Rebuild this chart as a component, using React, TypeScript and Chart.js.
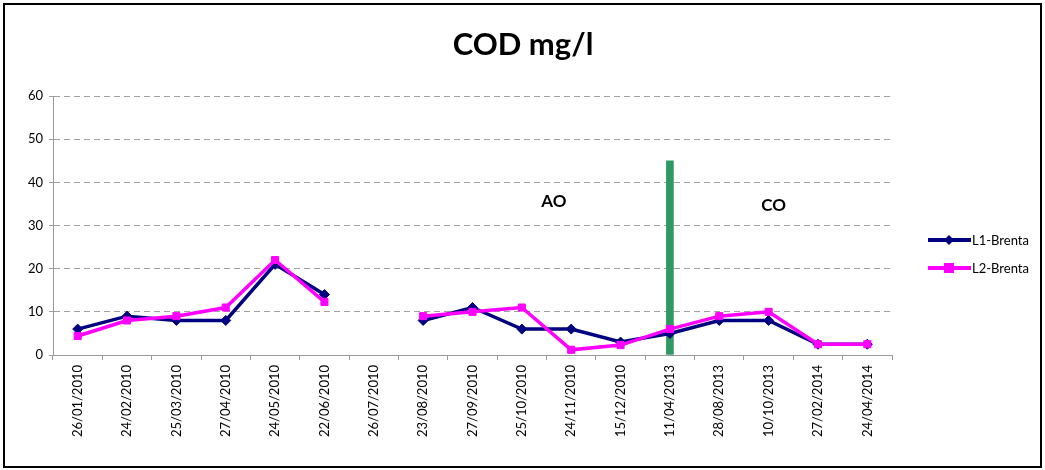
import React, { useEffect, useRef } from "react";
import { Chart, registerables } from "chart.js";

Chart.register(...registerables);

const categories = [
  "26/01/2010", "24/02/2010", "25/03/2010", "27/04/2010", "24/05/2010", "22/06/2010",
  "26/07/2010", "23/08/2010", "27/09/2010", "25/10/2010", "24/11/2010", "15/12/2010",
  "11/04/2013", "28/08/2013", "10/10/2013", "27/02/2014", "24/04/2014",
];
const l1Brenta = [6, 9, 8, 8, 21, 14, null, 8, 11, 6, 6, 3, 5, 8, 8, 2.5, 2.5];
const l2Brenta = [4.4, 8, 9, 11, 22, 12.3, null, 9, 10, 11, 1.2, 2.3, 6, 9, 10, 2.5, 2.5];
const dividerBar = [null, null, null, null, null, null, null, null, null, null, null, null, 45, null, null, null, null];
const yTicks = [0, 10, 20, 30, 40, 50, 60];
const annotations = [
  { text: "AO", index: 9.65, value: 35.5 },
  { text: "CO", index: 14.1, value: 34.6 },
];
const legendItems = [
  { label: "L1-Brenta", color: "#000080", marker: "diamond" },
  { label: "L2-Brenta", color: "#FF00FF", marker: "square" },
];

const FONT = "Lato, 'Liberation Sans', sans-serif";

const customPlugin = {
  id: "customDraw",
  afterDatasetsDraw(chart: any) {
    const ctx = chart.ctx;
    const xs = chart.scales.x;
    const ys = chart.scales.y;
    ctx.save();
    // title
    ctx.fillStyle = "#000";
    ctx.font = `bold 31px ${FONT}`;
    ctx.textAlign = "center";
    ctx.textBaseline = "middle";
    ctx.fillText("COD mg/l", 523, 45);
    // annotations
    ctx.font = `bold 17px ${FONT}`;
    const step = xs.getPixelForValue(1) - xs.getPixelForValue(0);
    annotations.forEach((a) => {
      const x = xs.getPixelForValue(0) + a.index * step;
      const y = ys.getPixelForValue(a.value);
      ctx.fillText(a.text, x, y);
    });
    // legend
    legendItems.forEach((item, i) => {
      const y = 240 + i * 28;
      ctx.strokeStyle = item.color;
      ctx.lineWidth = 4;
      ctx.beginPath();
      ctx.moveTo(928, y);
      ctx.lineTo(971, y);
      ctx.stroke();
      ctx.fillStyle = item.color;
      if (item.marker === "diamond") {
        ctx.beginPath();
        ctx.moveTo(949, y - 5);
        ctx.lineTo(954, y);
        ctx.lineTo(949, y + 5);
        ctx.lineTo(944, y);
        ctx.closePath();
        ctx.fill();
      } else {
        ctx.fillRect(944, y - 5, 10, 10);
      }
      ctx.fillStyle = "#000";
      ctx.font = `13px ${FONT}`;
      ctx.textAlign = "left";
      ctx.fillText(item.label, 972, y + 1);
    });
    ctx.restore();
  },
};

export default function App() {
  const ref = useRef<HTMLCanvasElement>(null);
  useEffect(() => {
    if (!ref.current) return;
    const chart = new Chart(ref.current, {
      type: "line",
      data: {
        labels: categories,
        datasets: [
          {
            type: "line",
            label: "L2-Brenta",
            data: l2Brenta,
            borderColor: "#FF00FF",
            backgroundColor: "#FF00FF",
            borderWidth: 3.5,
            pointStyle: "rect",
            pointRadius: 5,
            pointBorderWidth: 1,
            spanGaps: false,
            order: 0,
          },
          {
            type: "line",
            label: "L1-Brenta",
            data: l1Brenta,
            borderColor: "#000080",
            backgroundColor: "#000080",
            borderWidth: 3.5,
            pointStyle: "rectRot",
            pointRadius: 5,
            pointBorderWidth: 1,
            spanGaps: false,
            order: 1,
          },
          {
            type: "bar",
            label: "divider",
            data: dividerBar,
            backgroundColor: "#2E9A62",
            barThickness: 7,
            order: 2,
          } as any,
        ],
      },
      options: {
        animation: false,
        responsive: false,
        layout: { padding: { top: 96, right: 153, left: 0, bottom: 0 } },
        plugins: {
          legend: { display: false },
          title: { display: false },
          tooltip: { enabled: false },
        },
        scales: {
          x: {
            offset: true,
            grid: {
              display: true,
              offset: true,
              drawOnChartArea: false,
              drawTicks: true,
              tickLength: 5,
              color: "#999",
            },
            border: { color: "#999", width: 1 },
            ticks: {
              color: "#000",
              font: { family: FONT, size: 13 },
              maxRotation: 90,
              minRotation: 90,
              autoSkip: false,
              padding: 5,
            },
            afterFit(s: any) {
              s.height = 115;
            },
          },
          y: {
            min: 0,
            max: 60,
            afterBuildTicks(s: any) {
              s.ticks = yTicks.map((v) => ({ value: v }));
            },
            grid: {
              color: "#a0a0a0",
              tickLength: 4,
              drawTicks: true,
            },
            border: { color: "#999", width: 1, dash: [6, 4] },
            ticks: {
              color: "#000",
              font: { family: FONT, size: 13 },
              padding: 6,
            },
            afterFit(s: any) {
              s.width = 53;
            },
          },
        },
      },
      plugins: [customPlugin],
    });
    return () => chart.destroy();
  }, []);
  return (
    <div style={{ position: "absolute", left: 0, top: 0, width: 1045, height: 470, background: "#fff" }}>
      <canvas ref={ref} width={1045} height={470} style={{ position: "absolute", left: 0, top: 0 }} />
      <div
        style={{
          position: "absolute",
          left: 3,
          top: 3,
          width: 1035,
          height: 461,
          border: "2px solid #000",
          pointerEvents: "none",
        }}
      />
    </div>
  );
}
